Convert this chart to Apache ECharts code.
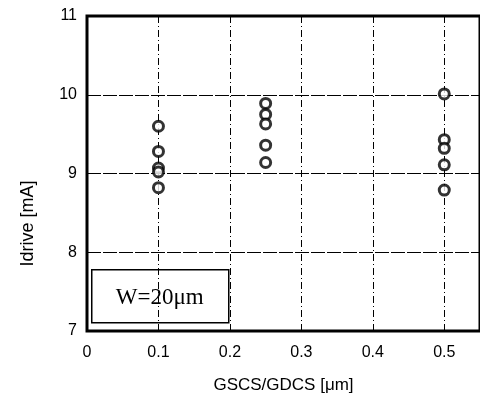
<!DOCTYPE html>
<html>
<head>
<meta charset="utf-8">
<script src="https://cdn.jsdelivr.net/npm/echarts@6/dist/echarts.min.js"></script>
<style>
  html, body { margin: 0; padding: 0; background: #fff; }
  #chart { width: 480px; height: 407px; }
</style>
</head>
<body>
<div id="chart"></div>
<script>
// spacing values (um) and measured drive currents (mA)
var spacing = [0.1, 0.25, 0.5]
var idrive01 = [9.60, 9.28, 9.07, 9.02, 8.82]
var idrive025 = [9.89, 9.75, 9.63, 9.36, 9.14]
var idrive05 = [10.01, 9.43, 9.32, 9.11, 8.79]
var xTicks = [0, 0.1, 0.2, 0.3, 0.4, 0.5]
var yTicks = [7, 8, 9, 10, 11]

function pairs(x, vals) {
  return vals.map(function (v) { return [x, v] })
}

var points = []
  .concat(pairs(spacing[0], idrive01))
  .concat(pairs(spacing[1], idrive025))
  .concat(pairs(spacing[2], idrive05))

var myChart = echarts.init(document.getElementById('chart'))
var option = {
  animation: false,
  grid: {
    left: 87,
    top: 16,
    bottom: 76,
    right: -2,
    show: true,
    borderColor: '#000',
    borderWidth: 3
  },
  xAxis: {
    type: 'value',
    min: xTicks[0],
    max: 0.55,
    interval: 0.1,
    name: 'GSCS/GDCS [μm]',
    nameLocation: 'middle',
    nameGap: 46,
    nameTextStyle: { fontFamily: 'Liberation Sans', fontSize: 17, color: '#000' },
    axisLine: { show: false },
    axisTick: { show: false },
    axisLabel: {
      showMaxLabel: false,
      margin: 14,
      fontFamily: 'Liberation Sans',
      fontSize: 16,
      color: '#000'
    },
    splitLine: {
      show: true,
      lineStyle: { color: '#000', width: 1, type: [7, 3, 1, 3] }
    }
  },
  yAxis: {
    type: 'value',
    min: yTicks[0],
    max: yTicks[yTicks.length - 1],
    interval: 1,
    name: 'Idrive [mA]',
    nameLocation: 'middle',
    nameGap: 50,
    nameTextStyle: {
      fontFamily: 'Liberation Sans',
      fontSize: 18,
      color: '#000',
      padding: [0, 100, 0, 0]
    },
    axisLine: { show: false },
    axisTick: { show: false },
    axisLabel: {
      margin: 10,
      fontFamily: 'Liberation Sans',
      fontSize: 16,
      color: '#000'
    },
    splitLine: {
      show: true,
      lineStyle: { color: '#000', width: 1, type: [14, 2] }
    }
  },
  series: [
    {
      type: 'scatter',
      data: points,
      symbol: 'circle',
      symbolSize: 10,
      itemStyle: { color: '#fff', borderColor: '#000', borderWidth: 3 },
      z: 5
    }
  ],
  graphic: [
    {
      type: 'group',
      left: 91,
      top: 269,
      z: 10,
      children: [
        {
          type: 'rect',
          shape: { x: 0, y: 0, width: 137, height: 53 },
          style: { fill: '#fff', stroke: '#000', lineWidth: 1.5 }
        },
        {
          type: 'text',
          x: 68,
          y: 28,
          style: {
            text: 'W=20μm',
            fontFamily: 'Liberation Serif',
            fontSize: 23,
            fill: '#000',
            align: 'center',
            verticalAlign: 'middle'
          }
        }
      ]
    }
  ]
}
myChart.setOption(option)
</script>
</body>
</html>
